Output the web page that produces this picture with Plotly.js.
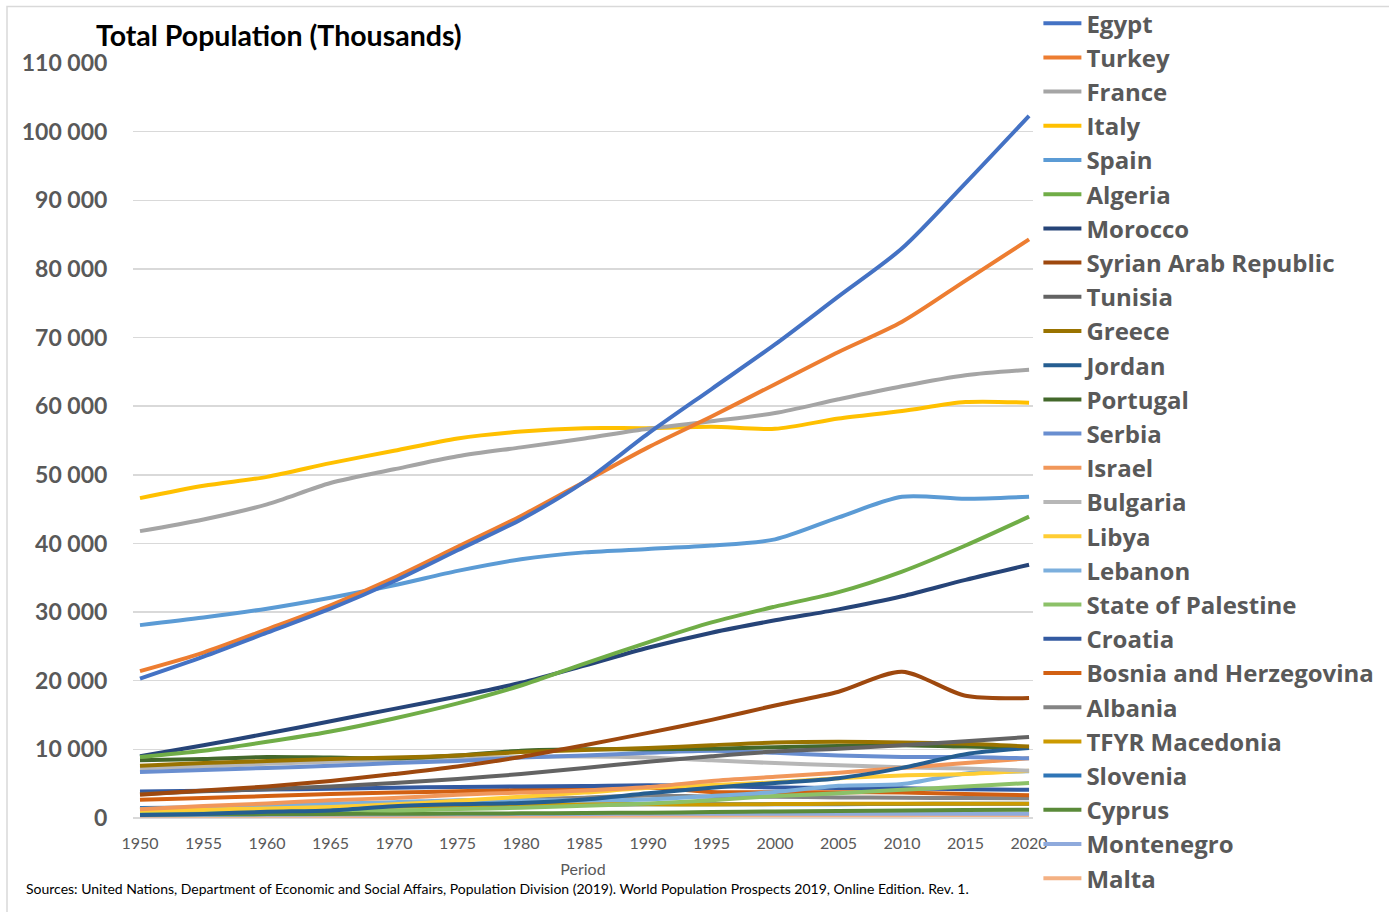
<!DOCTYPE html>
<html>
<head>
<meta charset="utf-8">
<script src="https://cdn.plot.ly/plotly-3.0.1.min.js"></script>
<style>html,body{margin:0;padding:0;background:#fff;}#chart{width:1389px;height:912px;}</style>
</head>
<body>
<div id="chart"></div>
<script>
const years = [1950,1955,1960,1965,1970,1975,1980,1985,1990,1995,2000,2005,2010,2015,2020];

const countries = ["Egypt","Turkey","France","Italy","Spain","Algeria","Morocco","Syrian Arab Republic","Tunisia","Greece","Jordan","Portugal","Serbia","Israel","Bulgaria","Libya","Lebanon","State of Palestine","Croatia","Bosnia and Herzegovina","Albania","TFYR Macedonia","Slovenia","Cyprus","Montenegro","Malta"];

const egypt      = [20300,23500,27000,30500,34500,39000,43500,49000,56000,62500,69000,76000,83000,92500,102300];
const turkey     = [21400,24100,27500,31000,35000,39500,44000,49000,54000,58500,63200,67900,72300,78300,84300];
const france     = [41800,43500,45700,48800,50800,52700,54000,55300,56700,57800,59000,61000,62900,64500,65300];
const italy      = [46600,48400,49700,51700,53500,55300,56300,56800,56800,57000,56700,58200,59300,60600,60500];
const spain      = [28100,29200,30500,32100,33900,36000,37700,38700,39200,39700,40600,43800,46800,46500,46800];
const algeria    = [8900,9800,11100,12600,14500,16700,19300,22500,25600,28500,30800,32900,35900,39700,43900];
const morocco    = [9000,10600,12300,14100,15900,17700,19700,22200,24800,27000,28800,30400,32300,34700,36900];
const syria      = [3400,4000,4600,5400,6400,7500,8900,10600,12400,14300,16400,18400,21300,17800,17500];
const tunisia    = [3500,3900,4200,4600,5100,5700,6400,7300,8200,9000,9700,10100,10600,11200,11800];
const greece     = [7600,8000,8300,8600,8800,9100,9600,9900,10200,10600,11000,11100,11000,10800,10400];
const jordan     = [450,600,900,1100,1700,2000,2200,2700,3600,4400,5100,5800,7300,9300,10200];
const portugal   = [8400,8600,8900,8800,8700,9100,9800,10000,10000,10100,10300,10500,10600,10400,10200];
const serbia     = [6700,7000,7300,7600,8000,8300,8800,9100,9500,9800,9500,9100,8900,8900,8700];
const israel     = [1260,1750,2100,2600,2900,3400,3700,4000,4500,5400,6000,6600,7300,8000,8700];
const bulgaria   = [7250,7500,7900,8200,8500,8700,8900,8960,8800,8400,8000,7700,7400,7200,6900];
const libya      = [1100,1200,1400,1600,2000,2500,3100,3700,4400,4800,5200,5800,6200,6400,6900];
const lebanon    = [1300,1500,1800,2100,2300,2600,2600,2600,2700,3200,3800,4700,4950,6500,6800];
const palestine  = [930,1000,1100,1200,1100,1300,1500,1800,2100,2600,3200,3600,4100,4600,5100];
const croatia    = [3850,3970,4140,4270,4410,4530,4600,4670,4780,4670,4430,4380,4330,4200,4100];
const bosnia     = [2660,2900,3200,3500,3700,3900,4100,4300,4460,3800,3750,3760,3700,3500,3300];
const albania    = [1260,1400,1600,1900,2150,2400,2700,2960,3290,3100,3100,3000,2950,2900,2880];
const macedonia  = [1230,1330,1420,1530,1650,1780,1900,1980,1990,1980,2030,2060,2070,2080,2080];
const slovenia   = [1470,1530,1580,1630,1720,1800,1900,1960,2000,1990,1990,2000,2050,2070,2080];
const cyprus     = [490,530,570,600,610,640,680,730,770,860,950,1030,1110,1160,1210];
const montenegro = [400,440,470,510,520,550,580,600,620,620,610,610,620,620,630];
const malta      = [310,320,310,310,300,310,320,340,360,380,390,400,410,430,440];

const seriesValues = [egypt,turkey,france,italy,spain,algeria,morocco,syria,tunisia,greece,jordan,portugal,serbia,israel,bulgaria,libya,lebanon,palestine,croatia,bosnia,albania,macedonia,slovenia,cyprus,montenegro,malta];

const colors = ["#4472C4","#ED7D31","#A5A5A5","#FFC000","#5B9BD5","#70AD47","#264478","#9E480E","#636363","#997300","#255E91","#43682B","#698ED0","#F1975A","#B7B7B7","#FFCD33","#7CAFDD","#8CC168","#335AA1","#D26012","#848484","#CC9A00","#2E75B6","#5A8A39","#8FAADC","#F4B183"];

const yTickVals = [0,10000,20000,30000,40000,50000,60000,70000,80000,90000,100000,110000];
const titleText = "Total Population (Thousands)";
const xTitle = "Period";
const sourceText = "Sources: United Nations, Department of Economic and Social Affairs, Population Division (2019). World Population Prospects 2019, Online Edition. Rev. 1.";

const traces = countries.map((name, i) => ({
  type: "scatter",
  mode: "lines",
  name: name,
  x: years,
  y: seriesValues[i],
  line: {color: colors[i], width: 4, shape: "spline", smoothing: 0.8},
  hoverinfo: "skip",
  legendrank: i + 1
})).reverse();

const layout = {
  width: 1389,
  height: 912,
  margin: {l: 133, r: 356, t: 63, b: 94, pad: 0, autoexpand: false},
  paper_bgcolor: "#ffffff",
  plot_bgcolor: "#ffffff",
  separators: ". ",
  font: {family: "Lato, 'Open Sans', sans-serif", color: "#595959"},
  showlegend: true,
  legend: {
    x: 1.006, xanchor: "left", y: 1.082, yanchor: "top",
    font: {size: 24, color: "#595959", family: "'Open Sans', sans-serif", weight: "bold"},
    bgcolor: "rgba(0,0,0,0)",
    traceorder: "normal",
    itemwidth: 38,
    tracegroupgap: 0,
    maxheight: 908
  },
  xaxis: {
    range: [1949.45, 2020.31],
    tickvals: years,
    ticktext: years.map(String),
    showgrid: false,
    zeroline: false,
    showline: false,
    ticks: "outside",
    ticklen: 11,
    tickcolor: "rgba(0,0,0,0)",
    tickfont: {size: 16, color: "#595959", family: "Lato, sans-serif"},
    title: {text: xTitle, font: {size: 16, color: "#595959", family: "Lato, sans-serif"}, standoff: 12},
    fixedrange: true
  },
  yaxis: {
    range: [0, 110000],
    tickvals: yTickVals,
    tickformat: ",d",
    showgrid: true,
    gridcolor: "#D9D9D9",
    gridwidth: 1.5,
    zeroline: true,
    zerolinecolor: "#D9D9D9",
    zerolinewidth: 1.5,
    showline: false,
    ticks: "outside",
    ticklen: 20,
    tickcolor: "rgba(0,0,0,0)",
    tickfont: {size: 23, color: "#595959", family: "Lato, sans-serif", weight: "bold"},
    fixedrange: true
  },
  annotations: [
    {text: titleText, xref: "paper", yref: "paper", x: -0.043, y: 1.037, xanchor: "left", yanchor: "middle",
     showarrow: false, font: {size: 28.5, color: "#000000", family: "Lato, sans-serif", weight: "bold"}},
    {text: sourceText, xref: "paper", yref: "paper", x: -0.121, y: -0.093, xanchor: "left", yanchor: "middle",
     showarrow: false, font: {size: 14, color: "#000000", family: "Lato, sans-serif"}}
  ],
  shapes: [
    {type: "rect", xref: "paper", yref: "paper", x0: -0.14, x1: 1.4, y0: -0.2, y1: 1.075,
     line: {color: "#D9D9D9", width: 1.5}, fillcolor: "rgba(0,0,0,0)", layer: "below"}
  ]
};

Plotly.newPlot("chart", traces, layout, {displayModeBar: false, staticPlot: true});
</script>
</body>
</html>
